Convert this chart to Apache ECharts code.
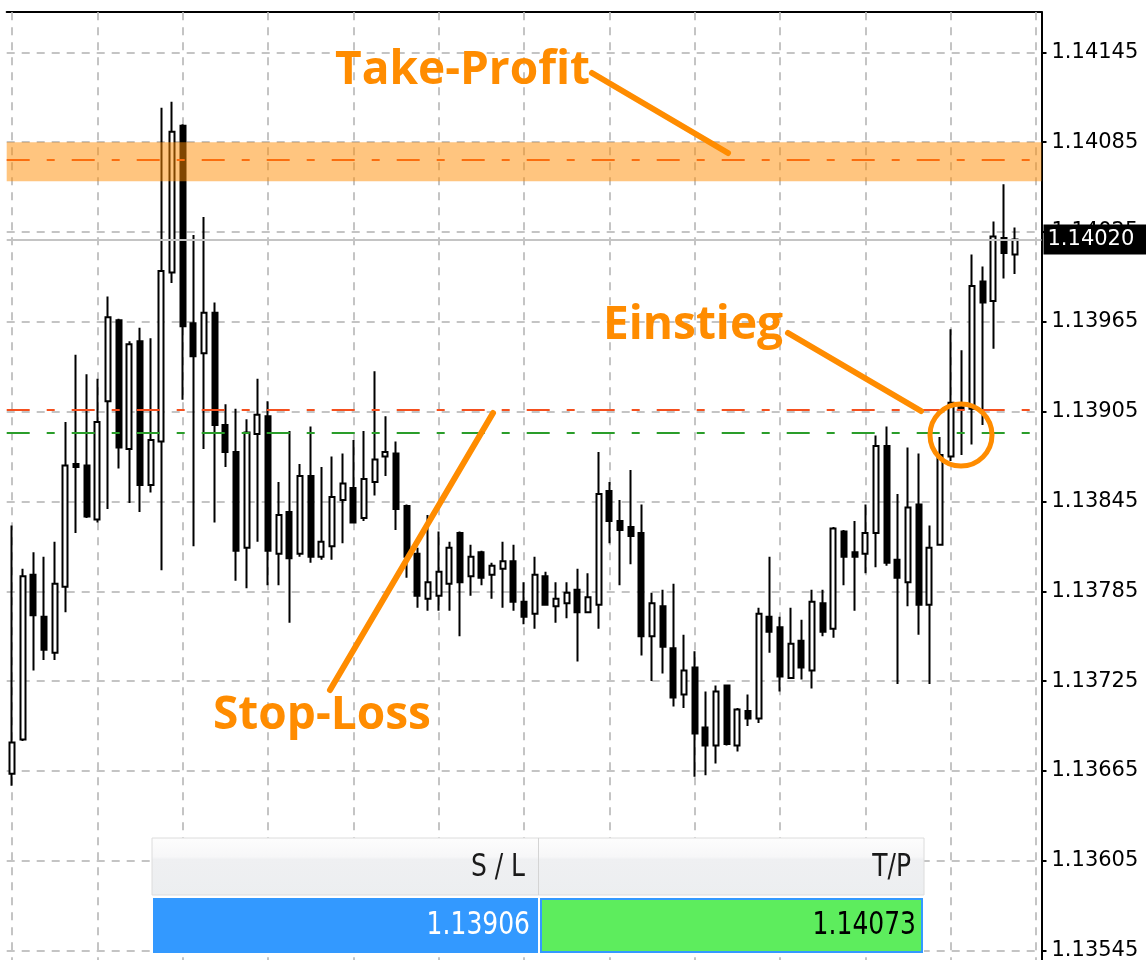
<!DOCTYPE html>
<html>
<head>
<meta charset="utf-8">
<script src="https://cdn.jsdelivr.net/npm/echarts@6/dist/echarts.min.js"></script>
<style>
  html, body { margin: 0; padding: 0; background: #fff; }
  #chart { width: 1146px; height: 960px; }
</style>
</head>
<body>
<div id="chart"></div>
<script>
// Kerzen (OHLC)
const open = [
  1.13663, 1.13686, 1.13796, 1.13768, 1.13744, 1.13788, 1.13870, 1.13869, 1.13833, 1.13912,
  1.13966, 1.13880, 1.13952, 1.13856, 1.13885, 1.13998, 1.14096, 1.13964, 1.13944, 1.13971,
  1.13896, 1.13878, 1.13814, 1.13890, 1.13902, 1.13810, 1.13838, 1.13810, 1.13862, 1.13808,
  1.13815, 1.13846, 1.13854, 1.13834, 1.13858, 1.13875, 1.13877, 1.13842, 1.13810, 1.13780,
  1.13782, 1.13790, 1.13824, 1.13795, 1.13811, 1.13796, 1.13800, 1.13805, 1.13778, 1.13770,
  1.13795, 1.13775, 1.13777, 1.13786, 1.13771, 1.13776, 1.13852, 1.13832, 1.13828, 1.13824,
  1.13755, 1.13775, 1.13747, 1.13716, 1.13734, 1.13694, 1.13682, 1.13722, 1.13682, 1.13705,
  1.13700, 1.13768, 1.13761, 1.13727, 1.13752, 1.13732, 1.13777, 1.13760, 1.13825, 1.13811,
  1.13810, 1.13824, 1.13882, 1.13806, 1.13791, 1.13843, 1.13776, 1.13816, 1.13875, 1.13908,
  1.13907, 1.13992, 1.13979, 1.14021, 1.14010
]
const high = [
  1.13829, 1.13800, 1.13811, 1.13808, 1.13818, 1.13898, 1.13943, 1.13930, 1.13927, 1.13982,
  1.13967, 1.13952, 1.13961, 1.13954, 1.14108, 1.14112, 1.14097, 1.14023, 1.14035, 1.13978,
  1.13910, 1.13907, 1.13900, 1.13927, 1.13912, 1.13858, 1.13892, 1.13870, 1.13895, 1.13868,
  1.13875, 1.13877, 1.13886, 1.13892, 1.13932, 1.13902, 1.13885, 1.13843, 1.13814, 1.13836,
  1.13825, 1.13818, 1.13825, 1.13816, 1.13812, 1.13804, 1.13818, 1.13816, 1.13791, 1.13808,
  1.13798, 1.13791, 1.13791, 1.13800, 1.13797, 1.13878, 1.13858, 1.13846, 1.13866, 1.13843,
  1.13784, 1.13786, 1.13790, 1.13756, 1.13745, 1.13718, 1.13722, 1.13722, 1.13707, 1.13716,
  1.13774, 1.13808, 1.13768, 1.13774, 1.13766, 1.13786, 1.13786, 1.13828, 1.13826, 1.13832,
  1.13843, 1.13889, 1.13895, 1.13850, 1.13881, 1.13877, 1.13829, 1.13888, 1.13960, 1.13946,
  1.14010, 1.14002, 1.14032, 1.14057, 1.14028
]
const low = [
  1.13655, 1.13685, 1.13732, 1.13739, 1.13739, 1.13771, 1.13824, 1.13834, 1.13831, 1.13840,
  1.13867, 1.13844, 1.13838, 1.13851, 1.13799, 1.13991, 1.13913, 1.13815, 1.13880, 1.13831,
  1.13868, 1.13792, 1.13787, 1.13818, 1.13789, 1.13789, 1.13764, 1.13808, 1.13804, 1.13806,
  1.13806, 1.13817, 1.13831, 1.13832, 1.13849, 1.13862, 1.13826, 1.13794, 1.13774, 1.13772,
  1.13772, 1.13772, 1.13755, 1.13782, 1.13789, 1.13780, 1.13774, 1.13772, 1.13763, 1.13760,
  1.13776, 1.13764, 1.13767, 1.13738, 1.13771, 1.13760, 1.13817, 1.13789, 1.13803, 1.13742,
  1.13725, 1.13730, 1.13708, 1.13707, 1.13661, 1.13662, 1.13670, 1.13682, 1.13678, 1.13695,
  1.13697, 1.13744, 1.13718, 1.13727, 1.13726, 1.13720, 1.13755, 1.13754, 1.13789, 1.13772,
  1.13797, 1.13801, 1.13802, 1.13723, 1.13775, 1.13756, 1.13723, 1.13816, 1.13872, 1.13876,
  1.13883, 1.13896, 1.13947, 1.13994, 1.13997
]
const close = [
  1.13684, 1.13795, 1.13769, 1.13746, 1.13790, 1.13869, 1.13868, 1.13835, 1.13898, 1.13968,
  1.13881, 1.13950, 1.13856, 1.13886, 1.13999, 1.14092, 1.13962, 1.13942, 1.13971, 1.13896,
  1.13878, 1.13812, 1.13891, 1.13903, 1.13812, 1.13836, 1.13807, 1.13862, 1.13808, 1.13818,
  1.13848, 1.13857, 1.13831, 1.13860, 1.13873, 1.13878, 1.13840, 1.13808, 1.13782, 1.13791,
  1.13798, 1.13814, 1.13791, 1.13808, 1.13794, 1.13802, 1.13805, 1.13778, 1.13768, 1.13796,
  1.13776, 1.13780, 1.13784, 1.13771, 1.13781, 1.13850, 1.13832, 1.13826, 1.13822, 1.13755,
  1.13777, 1.13748, 1.13714, 1.13732, 1.13690, 1.13682, 1.13718, 1.13683, 1.13706, 1.13700,
  1.13770, 1.13758, 1.13728, 1.13750, 1.13734, 1.13778, 1.13758, 1.13827, 1.13808, 1.13808,
  1.13824, 1.13882, 1.13804, 1.13794, 1.13841, 1.13776, 1.13814, 1.13876, 1.13911, 1.13907,
  1.13989, 1.13978, 1.14022, 1.14011, 1.14020
]

// 97 Zeitschlitze, die letzten zwei noch leer
const categories = Array.from({ length: 97 }, (_, i) => String(i + 1))
// senkrechte Gitterlinien (jede 8. Kerze)
const gridBars = [0, 8, 16, 24, 32, 40, 48, 56, 64, 72, 80, 88, 96]

const slPrice = 1.13906
const tpPrice = 1.14073
const entryPrice = 1.13891
const lastPrice = 1.14020
const tpZone = [1.14085, 1.14059]

const yMin = 1.13485
const yMax = 1.14172
const yStep = 0.0006

const orange = '#ff8c00'
const dashDot = [23, 17, 8, 17]

const myChart = echarts.init(document.getElementById('chart'))

const candles = open.map((o, i) => [o, close[i], low[i], high[i]])

const bigText = (text, x, y) => ({
  type: 'text', z: 100, x: x, y: y,
  style: {
    text: text, x: 0, y: 0, fill: orange,
    font: 'bold 46px "Open Sans", "DejaVu Sans", sans-serif',
    align: 'left', verticalAlign: 'middle'
  }
})
const arrow = (x1, y1, x2, y2) => ({
  type: 'line', z: 100,
  shape: { x1: x1, y1: y1, x2: x2, y2: y2 },
  style: { stroke: orange, lineWidth: 6, lineCap: 'round' }
})
const cellText = (text, x, y, color) => ({
  type: 'text', z: 102, x: x, y: y, scaleY: 1.25,
  style: {
    text: text, x: 0, y: 0, fill: color,
    font: '25px "DejaVu Sans", sans-serif',
    align: 'right', verticalAlign: 'middle'
  }
})

const options = {
  backgroundColor: '#fff',
  animation: false,
  grid: {
    left: 6.7,
    right: 104.5,
    top: 12,
    bottom: -80.3,
    containLabel: false,
    outerBoundsMode: 'none'
  },
  xAxis: {
    type: 'category',
    position: 'top',
    data: categories,
    boundaryGap: true,
    axisLine: { show: true, onZero: false, lineStyle: { color: '#000', width: 2 } },
    axisTick: { show: false },
    axisLabel: { show: false },
    splitLine: { show: false }
  },
  yAxis: {
    type: 'value',
    position: 'right',
    min: yMin,
    max: yMax,
    interval: yStep,
    axisLine: { show: true, lineStyle: { color: '#000', width: 2 } },
    axisTick: { show: true, length: 5, lineStyle: { color: '#000', width: 2 } },
    axisLabel: {
      show: true,
      margin: 10,
      color: '#000',
      fontSize: 21,
      fontFamily: 'DejaVu Sans',
      showMaxLabel: false,
      formatter: (v) => v.toFixed(5)
    },
    splitLine: {
      show: true,
      lineStyle: { color: '#c4c4c4', width: 2, type: [8, 7] }
    }
  },
  series: [
    {
      // senkrechtes Gitter
      name: 'raster',
      type: 'line',
      data: [],
      silent: true,
      markLine: {
        silent: true,
        z: 1,
        symbol: 'none',
        label: { show: false },
        lineStyle: { color: '#c4c4c4', width: 2, type: [8, 7] },
        data: gridBars.map((i) => ({ xAxis: i }))
      }
    },
    {
      name: 'EURUSD',
      type: 'candlestick',
      data: candles,
      barWidth: 5.5,
      clip: false,
      itemStyle: {
        color: '#fff',
        color0: '#000',
        borderColor: '#000',
        borderColor0: '#000',
        borderColorDoji: '#000',
        borderWidth: 2
      },
      markLine: {
        silent: true,
        z: 5,
        symbol: 'none',
        precision: 5,
        label: { show: false },
        data: [
          { yAxis: lastPrice, lineStyle: { color: '#c4c4c4', width: 2, type: 'solid' },
            label: {
              show: true, position: 'end', distance: 2,
              formatter: lastPrice.toFixed(5),
              color: '#fff', backgroundColor: '#000',
              padding: [5, 20, 4, 4],
              fontSize: 21, fontFamily: 'DejaVu Sans'
            } },
          { yAxis: tpPrice, lineStyle: { color: '#f5501e', width: 2, type: dashDot } },
          { yAxis: slPrice, lineStyle: { color: '#f5501e', width: 2, type: dashDot } },
          { yAxis: entryPrice, lineStyle: { color: '#2a9d2a', width: 2, type: dashDot } }
        ]
      },
      markArea: {
        silent: true,
        z: 10,
        itemStyle: { color: 'rgba(255,140,0,0.5)' },
        data: [[{ yAxis: tpZone[0] }, { yAxis: tpZone[1] }]]
      }
    }
  ],
  graphic: [
    bigText('Take-Profit', 335, 71),
    arrow(592, 73, 728, 153),
    bigText('Einstieg', 603, 326),
    arrow(788, 333, 921, 411),
    bigText('Stop-Loss', 213, 716),
    arrow(330, 690, 493, 413),
    {
      type: 'circle', z: 100,
      shape: { cx: 961, cy: 435, r: 31 },
      style: { fill: 'transparent', stroke: orange, lineWidth: 5 }
    },
    // S/L - T/P Tabelle
    {
      type: 'rect', z: 101,
      shape: { x: 152, y: 838, width: 772, height: 117 },
      style: { fill: '#fff' }
    },
    {
      type: 'rect', z: 101,
      shape: { x: 152, y: 838, width: 772, height: 57 },
      style: {
        fill: new echarts.graphic.LinearGradient(0, 0, 0, 1, [
          { offset: 0, color: '#fdfdfd' },
          { offset: 0.33, color: '#f7f7f8' },
          { offset: 0.38, color: '#eff0f2' },
          { offset: 1, color: '#eceef0' }
        ]),
        stroke: '#dcdcdc', lineWidth: 1
      }
    },
    {
      type: 'line', z: 102,
      shape: { x1: 538.5, y1: 838, x2: 538.5, y2: 895 },
      style: { stroke: '#d4d4d4', lineWidth: 1 }
    },
    {
      type: 'rect', z: 101,
      shape: { x: 153, y: 898, width: 385, height: 55 },
      style: { fill: '#3399ff' }
    },
    {
      type: 'rect', z: 101,
      shape: { x: 541, y: 899, width: 381, height: 53 },
      style: { fill: '#5ded5d', stroke: '#3399ff', lineWidth: 2 }
    },
    cellText('S / L', 525, 868, '#1a1a1a'),
    cellText('T/P', 911, 868, '#1a1a1a'),
    cellText(slPrice.toFixed(5), 530, 926, '#ffffff'),
    cellText(tpPrice.toFixed(5), 916, 926, '#000000')
  ]
}

myChart.setOption(options)
</script>
</body>
</html>
